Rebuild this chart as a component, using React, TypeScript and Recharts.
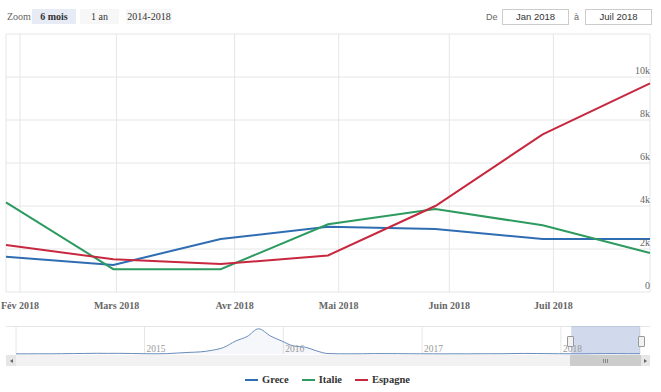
import { LineChart, Line, AreaChart, Area, XAxis, YAxis, CartesianGrid, ReferenceArea } from 'recharts';

// main chart: ordinal positions, one point per month (28th), Jan -> Jul 2018
const POINTS = [0, 1, 2, 3, 4, 5, 6];
const GRECE = [1640, 1260, 2460, 3030, 2930, 2460, 2460];
const ITALIE = [4170, 1060, 1060, 3150, 3860, 3100, 1810];
const ESPAGNE = [2190, 1520, 1300, 1700, 4000, 7330, 9700];

const MONTH_TICKS = [0.13, 1.03, 2.13, 3.1, 4.13, 5.1];
const MONTH_LABELS = ['Fév 2018', 'Mars 2018', 'Avr 2018', 'Mai 2018', 'Juin 2018', 'Juil 2018'];
const Y_TICKS = [0, 2000, 4000, 6000, 8000, 10000, 12000];

const SERIES = [
  { key: 'grece', name: 'Grece', color: '#2f6db3' },
  { key: 'italie', name: 'Italie', color: '#2d9a60' },
  { key: 'espagne', name: 'Espagne', color: '#c7283f' },
];

// navigator (Greece, monthly from Jan 2014 to Jul 2018)
const NAV_GRECE = [
  1200, 1300, 1800, 1700, 2500, 3600, 4600, 6000, 5300, 5600, 4100, 2400,
  1700, 2900, 7900, 13600, 17900, 31300, 54900, 107800, 147100, 211700, 151200, 108700,
  67400, 57100, 26900, 3600, 1700, 1600, 1900, 3400, 3100, 2900, 2000, 1600,
  1400, 1100, 1700, 1100, 2100, 2000, 2300, 3600, 4900, 4100, 3000, 2200,
  1640, 1260, 2460, 3030, 2930, 2460, 2460,
];
const NAV_YEARS = [2015, 2016, 2017, 2018];
const ZOOM_BUTTONS = ['6 mois', '1 an', '2014-2018'];
const RANGE_FROM = 'Jan 2018';
const RANGE_TO = 'Juil 2018';

const toYear = (y: number, m: number, d: number) => {
  const start = new Date(y, 0, 1).getTime();
  const end = new Date(y + 1, 0, 1).getTime();
  return y + (new Date(y, m, d).getTime() - start) / (end - start);
};

const chartData = POINTS.map((x, i) => ({
  x,
  grece: GRECE[i],
  italie: ITALIE[i],
  espagne: ESPAGNE[i],
}));

const navData = NAV_GRECE.map((v, i) => ({ t: toYear(2014 + Math.floor(i / 12), i % 12, 28), v }));
const NAV_MIN = navData[0].t;
const NAV_MAX = navData[navData.length - 1].t;
const SEL_START = navData[navData.length - POINTS.length].t;

const SERIF = 'Liberation Serif, Times New Roman, serif';
const SANS = 'Liberation Sans, Arial, sans-serif';

const XTick = (props: any) => {
  const { x, y, payload } = props;
  const idx = MONTH_TICKS.indexOf(payload.value);
  return (
    <text x={x} y={y + 14.5} textAnchor="middle" fontFamily={SERIF} fontSize={10} fontWeight={700} fill="#666">
      {MONTH_LABELS[idx]}
    </text>
  );
};

const YTick = (props: any) => {
  const { y, payload } = props;
  if (payload.value === 12000) return null;
  const label = payload.value === 0 ? '0' : `${payload.value / 1000}k`;
  return (
    <text x={650} y={y - 3} textAnchor="end" fontFamily={SERIF} fontSize={10} fill="#666">
      {label}
    </text>
  );
};

const NavTick = (props: any) => {
  const { x, payload } = props;
  return (
    <text x={x + 2} y={351.5 - 320} textAnchor="start" fontFamily={SERIF} fontSize={9.5} fill="#999">
      {payload.value}
    </text>
  );
};

const arrow = (dir: 'left' | 'right') => (
  <div
    style={{
      width: 0,
      height: 0,
      borderTop: '2px solid transparent',
      borderBottom: '2px solid transparent',
      [dir === 'left' ? 'borderRight' : 'borderLeft']: '3px solid #666',
    }}
  />
);

export default function App() {
  return (
    <div style={{ position: 'absolute', left: 0, top: 0, width: 661, height: 392, background: '#fff', overflow: 'hidden' }}>
      <LineChart width={661} height={315} data={chartData} margin={{ top: 34, right: 10, bottom: 0, left: 6 }}>
        <CartesianGrid stroke="#e6e6e6" />
        <XAxis
          dataKey="x"
          type="number"
          domain={[0, 6]}
          ticks={MONTH_TICKS}
          interval={0}
          tick={<XTick />}
          tickLine={false}
          axisLine={false}
          tickSize={0}
          height={23}
        />
        <YAxis
          orientation="right"
          width={1}
          domain={[0, 12000]}
          ticks={Y_TICKS}
          interval={0}
          tick={<YTick />}
          tickLine={false}
          axisLine={false}
          tickSize={0}
          tickMargin={0}
        />
        {SERIES.map((s) => (
          <Line
            key={s.key}
            dataKey={s.key}
            name={s.name}
            type="linear"
            stroke={s.color}
            strokeWidth={2}
            dot={false}
            activeDot={false}
            isAnimationActive={false}
          />
        ))}
      </LineChart>

      {/* range selector */}
      <div style={{ position: 'absolute', left: 7, top: 9, height: 15, lineHeight: '15px', fontFamily: SERIF, fontSize: 10, color: '#666' }}>
        Zoom
      </div>
      {ZOOM_BUTTONS.map((b, i) => (
        <div
          key={b}
          style={{
            position: 'absolute',
            left: [32, 80, 126][i],
            top: 9,
            width: [44, 39, 46][i],
            height: 15,
            lineHeight: '15px',
            textAlign: 'center',
            fontFamily: SERIF,
            fontSize: 10,
            fontWeight: i === 0 ? 700 : 400,
            color: '#333',
            background: i === 0 ? '#e6ebf5' : '#f7f7f7',
          }}
        >
          {b}
        </div>
      ))}
      <div style={{ position: 'absolute', left: 486, top: 9, height: 16, lineHeight: '16px', fontFamily: SANS, fontSize: 9, color: '#666' }}>De</div>
      <div style={{ position: 'absolute', left: 502, top: 9, width: 65, height: 14, lineHeight: '14px', border: '1px solid #ccc', textAlign: 'center', fontFamily: SANS, fontSize: 9.5, color: '#333' }}>
        {RANGE_FROM}
      </div>
      <div style={{ position: 'absolute', left: 574, top: 9, height: 16, lineHeight: '16px', fontFamily: SANS, fontSize: 9, color: '#666' }}>à</div>
      <div style={{ position: 'absolute', left: 585, top: 9, width: 65, height: 14, lineHeight: '14px', border: '1px solid #ccc', textAlign: 'center', fontFamily: SANS, fontSize: 9.5, color: '#333' }}>
        {RANGE_TO}
      </div>

      {/* navigator */}
      <div style={{ position: 'absolute', left: 6, top: 326, width: 644, height: 1, background: '#e6e6e6' }} />
      <div style={{ position: 'absolute', left: 0, top: 320 }}>
        <AreaChart width={661} height={40} data={navData} margin={{ top: 6, right: 21, bottom: 5, left: 16 }}>
          <CartesianGrid stroke="#e6e6e6" horizontal={false} />
          <XAxis
            dataKey="t"
            type="number"
            domain={[NAV_MIN, NAV_MAX]}
            ticks={NAV_YEARS}
            interval={0}
            tick={<NavTick />}
            tickLine={false}
            axisLine={false}
            tickSize={0}
            height={1}
          />
          <YAxis hide domain={[0, 235000]} />
          <Area
            dataKey="v"
            type="monotone"
            stroke="#6a8cba"
            strokeWidth={1}
            fill="#335cad"
            fillOpacity={0.05}
            dot={false}
            activeDot={false}
            isAnimationActive={false}
          />
          <ReferenceArea x1={SEL_START} x2={NAV_MAX} fill="#6685c2" fillOpacity={0.3} stroke="none" />
        </AreaChart>
      </div>
      {[567, 638].map((l) => (
        <div key={l} style={{ position: 'absolute', left: l, top: 336, width: 5, height: 9, background: '#f2f2f2', border: '1px solid #999', borderRadius: 1 }} />
      ))}

      {/* scrollbar */}
      <div style={{ position: 'absolute', left: 6, top: 355, width: 644, height: 11, background: '#f2f2f2' }} />
      <div style={{ position: 'absolute', left: 6, top: 355, width: 10, height: 11, background: '#e6e6e6', display: 'flex', alignItems: 'center', justifyContent: 'center' }}>
        {arrow('left')}
      </div>
      <div style={{ position: 'absolute', left: 570, top: 355, width: 71, height: 11, background: '#cccccc', display: 'flex', alignItems: 'center', justifyContent: 'center', gap: 1 }}>
        {[0, 1, 2].map((g) => (
          <div key={g} style={{ width: 1, height: 4, background: '#888' }} />
        ))}
      </div>
      <div style={{ position: 'absolute', left: 641, top: 355, width: 9, height: 11, background: '#e6e6e6', display: 'flex', alignItems: 'center', justifyContent: 'center' }}>
        {arrow('right')}
      </div>

      {/* legend */}
      <div style={{ position: 'absolute', left: 0, top: 373, width: 661, display: 'flex', justifyContent: 'center' }}>
        <div style={{ display: 'flex', gap: 13, marginLeft: -6 }}>
          {SERIES.map((s) => (
            <div key={s.key} style={{ display: 'flex', alignItems: 'center', gap: 4 }}>
              <div style={{ width: 13, height: 2, background: s.color }} />
              <span style={{ fontFamily: SERIF, fontSize: 10.5, fontWeight: 700, color: '#333', lineHeight: '14px' }}>{s.name}</span>
            </div>
          ))}
        </div>
      </div>
    </div>
  );
}
